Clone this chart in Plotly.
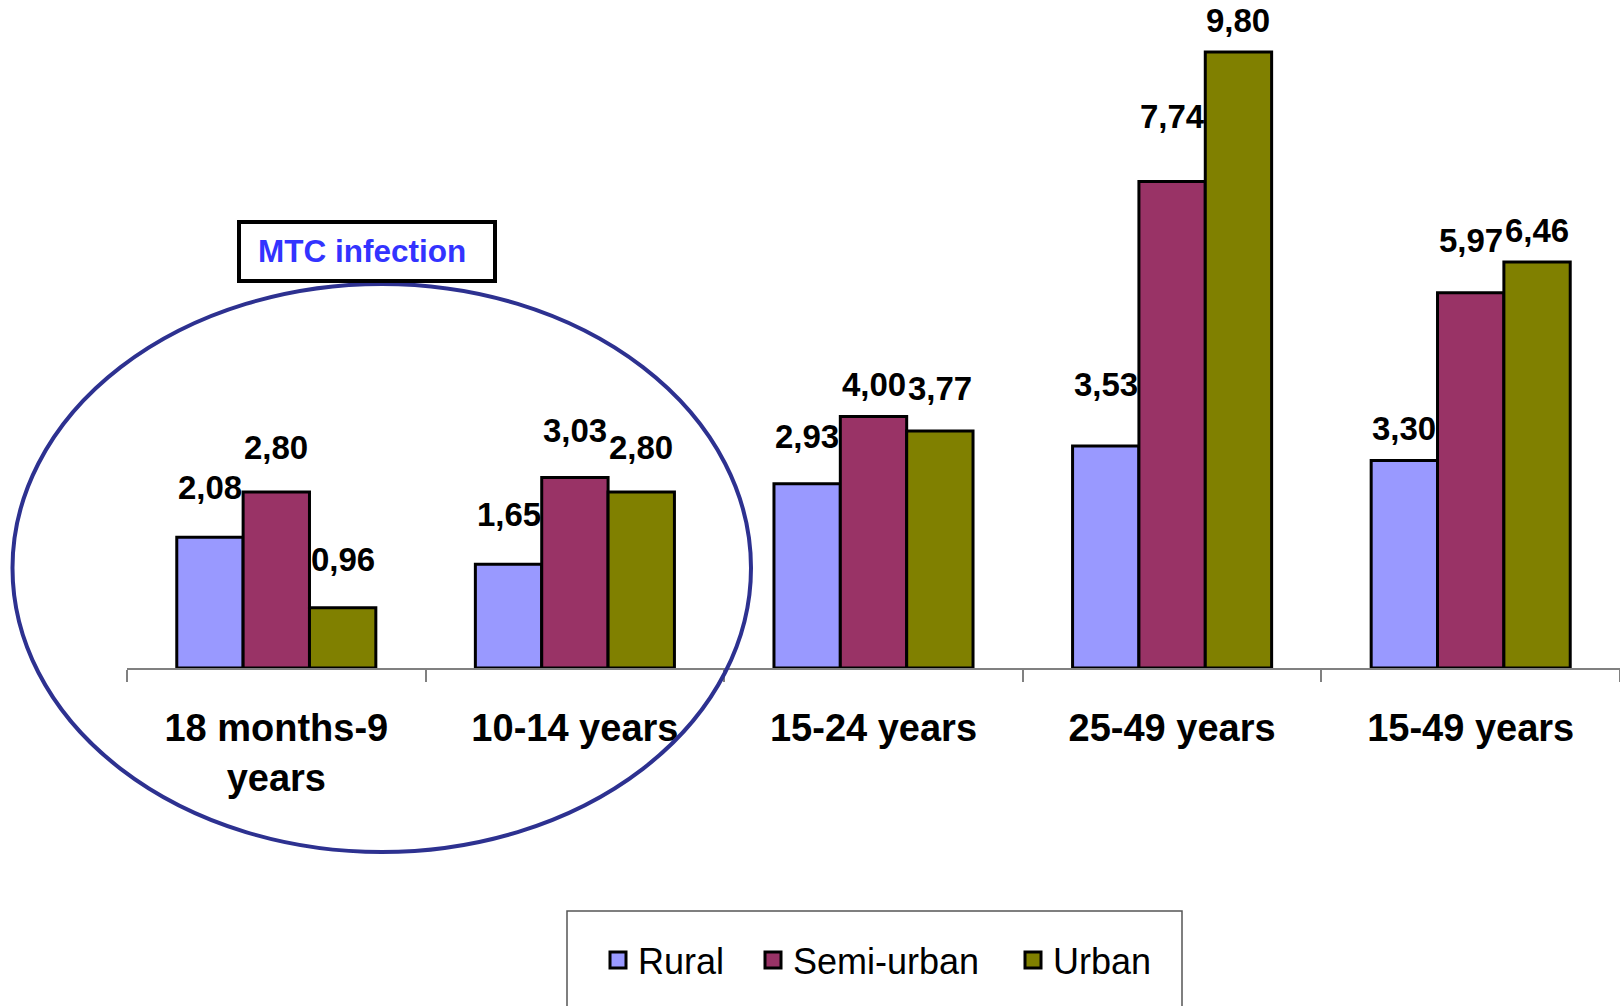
import plotly.graph_objects as go

# ---- data ----
categories = ["18 months-9<br>years", "10-14 years", "15-24 years", "25-49 years", "15-49 years"]
rural = [2.08, 1.65, 2.93, 3.53, 3.30]
semi_urban = [2.80, 3.03, 4.00, 7.74, 5.97]
urban = [0.96, 2.80, 3.77, 9.80, 6.46]
series_names = ["Rural", "Semi-urban", "Urban"]

# ---- style ----
colors = ["#9999FF", "#993366", "#808000"]
label_lift = [  # vertical lift of each value label above its bar (px)
    [50, 50, 47, 62, 32],
    [45, 47, 32, 65, 52],
    [48, 45, 43, 31, 31],
]
FONT = "Liberation Sans, Arial, sans-serif"
W, H = 1620, 1006
ML, MR, MT, MB = 127, 0, 0, 338
BARGAP = 1 / 3
PW, PH = W - ML - MR, H - MT - MB


def px(xp):
    return (xp - ML) / PW


def py(yp):
    return (H - MB - yp) / PH


fig = go.Figure()
all_series = [rural, semi_urban, urban]
for name, vals, col in zip(series_names, all_series, colors):
    fig.add_trace(go.Bar(
        x=categories, y=vals, name=name, showlegend=False,
        marker=dict(color=col, line=dict(color="black", width=3)),
    ))

# legend entries (one legend per entry to match spacing)
legend_x = [px(598), px(753), px(1013)]
legend_ids = ["legend", "legend2", "legend3"]
for name, col, lid in zip(series_names, colors, legend_ids):
    fig.add_trace(go.Scatter(
        x=[None], y=[None], mode="markers", name=name, legend=lid,
        marker=dict(symbol="square", size=16, color=col, line=dict(color="black", width=3)),
    ))

# value labels
group_w = 1 - BARGAP
annotations = []
for j, vals in enumerate(all_series):
    for i, v in enumerate(vals):
        annotations.append(dict(
            x=i + (j - 1) * group_w / 3, y=v, xref="x", yref="y",
            text=f"<b>{v:.2f}</b>".replace(".", ","), showarrow=False,
            yshift=label_lift[j][i], yanchor="middle", xanchor="center",
            font=dict(family=FONT, size=33, color="black"),
        ))
annotations.append(dict(
    x=px(362), y=py(251), xref="paper", yref="paper",
    text="<b>MTC infection</b>", showarrow=False, xanchor="center", yanchor="middle",
    font=dict(family=FONT, size=31.5, color="#3333FF"),
))

shapes = [
    dict(type="circle", xref="paper", yref="paper",
         x0=px(12.5), x1=px(751), y0=py(284), y1=py(852),
         line=dict(color="#2D3190", width=4), layer="above"),
    dict(type="rect", xref="paper", yref="paper",
         x0=px(239), x1=px(495), y0=py(222), y1=py(281),
         line=dict(color="black", width=4), fillcolor="white", layer="above"),
    dict(type="rect", xref="paper", yref="paper",
         x0=px(567), x1=px(1182), y0=py(911), y1=py(1012),
         line=dict(color="#555555", width=1.5), fillcolor="rgba(0,0,0,0)", layer="above"),
]

leg_common = dict(orientation="h", xanchor="left", yanchor="middle", y=py(960),
                  font=dict(family=FONT, size=36, color="black"),
                  bgcolor="rgba(0,0,0,0)", borderwidth=0)

fig.update_layout(
    width=W, height=H,
    margin=dict(l=ML, r=MR, t=MT, b=MB, pad=0),
    paper_bgcolor="white", plot_bgcolor="white",
    barmode="group", bargap=BARGAP, bargroupgap=0,
    showlegend=True,
    legend=dict(x=legend_x[0], **leg_common),
    legend2=dict(x=legend_x[1], **leg_common),
    legend3=dict(x=legend_x[2], **leg_common),
    xaxis=dict(
        type="category", categoryorder="array", categoryarray=categories,
        range=[-0.5, len(categories) - 0.5],
        showline=True, linecolor="#808080", linewidth=1.5,
        ticks="outside", tickson="boundaries", ticklen=12, tickwidth=1.5, tickcolor="#808080",
        tickfont=dict(family=FONT, size=38, color="black", weight="bold"),
        ticklabelstandoff=26, showgrid=False, zeroline=False, automargin=False,
    ),
    yaxis=dict(visible=False, range=[0, 10.627], showgrid=False, zeroline=False, fixedrange=True),
    annotations=annotations,
    shapes=shapes,
)

fig.write_html("out.html", config={"displayModeBar": False},
               post_script="document.body.style.margin='0';")
